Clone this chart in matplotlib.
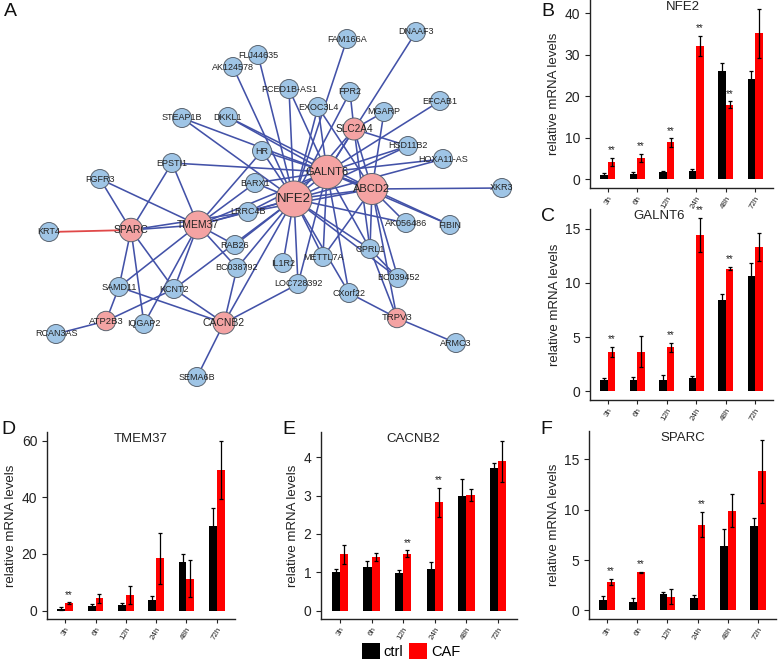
import matplotlib
matplotlib.use('Agg')
import matplotlib.pyplot as plt
import numpy as np
from matplotlib.patches import Circle, Patch
from matplotlib.transforms import offset_copy

plt.rcParams['font.family'] = ['Liberation Sans', 'DejaVu Sans']

W, H = 778, 659

# ---- bar chart data (mean, error) ----
timepoints = ['3h', '6h', '12h', '24h', '48h', '72h']

nfe2_ctrl = [1.0, 1.2, 1.7, 2.1, 26.0, 24.2]
nfe2_ctrl_err = [0.5, 0.5, 0.3, 0.3, 2.0, 1.8]
nfe2_caf = [4.2, 5.2, 8.9, 32.1, 18.0, 35.2]
nfe2_caf_err = [1.0, 1.0, 1.0, 2.4, 0.8, 5.9]
nfe2_sig = ['3h', '6h', '12h', '24h', '48h']

galnt6_ctrl = [1.0, 1.0, 1.0, 1.2, 8.4, 10.65]
galnt6_ctrl_err = [0.2, 0.3, 0.5, 0.2, 0.55, 1.15]
galnt6_caf = [3.6, 3.65, 4.05, 14.4, 11.3, 13.3]
galnt6_caf_err = [0.45, 1.45, 0.4, 1.6, 0.15, 1.3]
galnt6_sig = ['3h', '12h', '24h', '48h']

tmem37_ctrl = [0.7, 1.6, 2.0, 3.7, 17.1, 30.0]
tmem37_ctrl_err = [0.4, 0.8, 0.8, 1.6, 2.9, 6.4]
tmem37_caf = [2.6, 4.3, 5.5, 18.4, 11.3, 49.8]
tmem37_caf_err = [0.3, 1.7, 3.1, 9.0, 6.6, 10.3]
tmem37_sig = ['3h']

cacnb2_ctrl = [1.0, 1.14, 0.98, 1.09, 3.0, 3.71]
cacnb2_ctrl_err = [0.08, 0.15, 0.08, 0.17, 0.44, 0.14]
cacnb2_caf = [1.47, 1.39, 1.48, 2.83, 3.02, 3.9]
cacnb2_caf_err = [0.25, 0.1, 0.09, 0.38, 0.16, 0.54]
cacnb2_sig = ['12h', '24h']

sparc_ctrl = [1.0, 0.85, 1.6, 1.28, 6.4, 8.35]
sparc_ctrl_err = [0.4, 0.35, 0.2, 0.3, 1.65, 0.8]
sparc_caf = [2.8, 3.8, 1.38, 8.5, 9.9, 13.8]
sparc_caf_err = [0.3, 0.05, 0.75, 1.25, 1.65, 3.15]
sparc_sig = ['3h', '6h', '24h']

# ---- network data ----
hub_genes = ['NFE2', 'GALNT6', 'ABCD2', 'SLC2A4', 'TMEM37', 'SPARC', 'CACNB2', 'ATP2B3', 'TRPV3']
hub_sizes = [18, 16.7, 15.5, 11, 14, 11.7, 11, 9.7, 9.7]
hub_font = [9.5, 8, 8, 7.3, 7.5, 7.5, 7.5, 6.8, 6.8]

other_genes = ['FLJ44635', 'AK124578', 'STEAP1B', 'DKKL1', 'HR', 'EPSTI1', 'FGFR3', 'BARX1',
               'FAM166A', 'DNAAF3', 'PCED1B-AS1', 'FPR2', 'EXOC3L4', 'EFCAB1', 'MGARP',
               'HSD11B2', 'HOXA11-AS', 'XKR3', 'KRT4', 'LRRC4B', 'RAB26', 'BC038792',
               'SAMD11', 'KCNT2', 'IQGAP2', 'RCAN3AS', 'SEMA6B', 'IL1R2', 'AK056486',
               'FIBIN', 'OPRL1', 'METTL7A', 'BC039452', 'LOC728392', 'CXorf22', 'ARMC3']

# layout of the network (pixel positions of the original drawing)
layout = {
    'NFE2': (294, 199), 'GALNT6': (327, 172), 'ABCD2': (372, 189), 'SLC2A4': (354, 129),
    'TMEM37': (198, 225), 'SPARC': (131, 230), 'CACNB2': (224, 323), 'ATP2B3': (106, 321),
    'TRPV3': (397, 318),
    'FLJ44635': (258, 55), 'AK124578': (233, 67), 'STEAP1B': (182, 118), 'DKKL1': (228, 117),
    'HR': (262, 151), 'EPSTI1': (172, 163), 'FGFR3': (100, 179), 'BARX1': (255, 183),
    'FAM166A': (347, 39), 'DNAAF3': (416, 32), 'PCED1B-AS1': (289, 89), 'FPR2': (350, 92),
    'EXOC3L4': (318, 107), 'EFCAB1': (440, 101), 'MGARP': (384, 112), 'HSD11B2': (408, 146),
    'HOXA11-AS': (443, 159), 'XKR3': (502, 188), 'KRT4': (49, 232), 'LRRC4B': (248, 212),
    'RAB26': (235, 245), 'BC038792': (237, 268), 'SAMD11': (119, 287), 'KCNT2': (174, 289),
    'IQGAP2': (144, 324), 'RCAN3AS': (56, 334), 'SEMA6B': (197, 377), 'IL1R2': (283, 263),
    'AK056486': (406, 223), 'FIBIN': (450, 225), 'OPRL1': (370, 249), 'METTL7A': (323, 257),
    'BC039452': (398, 278), 'LOC728392': (298, 284), 'CXorf22': (349, 293), 'ARMC3': (456, 343),
}

edges = [
    ('FGFR3', 'SPARC'), ('FGFR3', 'TMEM37'), ('EPSTI1', 'SPARC'), ('EPSTI1', 'TMEM37'),
    ('EPSTI1', 'GALNT6'), ('SPARC', 'TMEM37'), ('SPARC', 'LRRC4B'), ('SPARC', 'SAMD11'),
    ('SPARC', 'IQGAP2'), ('SPARC', 'KCNT2'), ('SAMD11', 'TMEM37'), ('SAMD11', 'ATP2B3'),
    ('SAMD11', 'CACNB2'), ('ATP2B3', 'RCAN3AS'), ('ATP2B3', 'KCNT2'), ('IQGAP2', 'TMEM37'),
    ('KCNT2', 'TMEM37'), ('KCNT2', 'CACNB2'), ('KCNT2', 'NFE2'), ('TMEM37', 'RAB26'),
    ('TMEM37', 'BC038792'), ('TMEM37', 'BARX1'), ('TMEM37', 'LRRC4B'), ('TMEM37', 'NFE2'),
    ('TMEM37', 'GALNT6'), ('TMEM37', 'HR'), ('CACNB2', 'BC038792'), ('CACNB2', 'SEMA6B'),
    ('CACNB2', 'NFE2'), ('CACNB2', 'LOC728392'), ('STEAP1B', 'ABCD2'), ('DKKL1', 'GALNT6'),
    ('AK124578', 'NFE2'), ('FLJ44635', 'NFE2'), ('PCED1B-AS1', 'NFE2'), ('PCED1B-AS1', 'GALNT6'),
    ('EXOC3L4', 'NFE2'), ('EXOC3L4', 'GALNT6'), ('EXOC3L4', 'ABCD2'), ('FPR2', 'SLC2A4'),
    ('FPR2', 'NFE2'), ('FAM166A', 'NFE2'), ('DNAAF3', 'GALNT6'), ('EFCAB1', 'GALNT6'),
    ('MGARP', 'SLC2A4'), ('MGARP', 'ABCD2'), ('SLC2A4', 'GALNT6'), ('SLC2A4', 'NFE2'),
    ('SLC2A4', 'ABCD2'), ('SLC2A4', 'HSD11B2'), ('SLC2A4', 'OPRL1'), ('HSD11B2', 'GALNT6'),
    ('HSD11B2', 'NFE2'), ('HOXA11-AS', 'GALNT6'), ('HOXA11-AS', 'NFE2'), ('XKR3', 'ABCD2'),
    ('HR', 'NFE2'), ('HR', 'GALNT6'), ('BARX1', 'NFE2'), ('BARX1', 'GALNT6'),
    ('LRRC4B', 'NFE2'), ('LRRC4B', 'GALNT6'), ('LRRC4B', 'ABCD2'), ('RAB26', 'NFE2'),
    ('BC038792', 'NFE2'), ('IL1R2', 'NFE2'), ('LOC728392', 'NFE2'), ('LOC728392', 'GALNT6'),
    ('METTL7A', 'NFE2'), ('METTL7A', 'GALNT6'), ('METTL7A', 'ABCD2'), ('CXorf22', 'NFE2'),
    ('CXorf22', 'GALNT6'), ('CXorf22', 'TRPV3'), ('OPRL1', 'NFE2'), ('OPRL1', 'GALNT6'),
    ('OPRL1', 'ABCD2'), ('OPRL1', 'TRPV3'), ('OPRL1', 'BC039452'), ('BC039452', 'NFE2'),
    ('BC039452', 'ABCD2'), ('AK056486', 'NFE2'), ('AK056486', 'ABCD2'), ('FIBIN', 'ABCD2'),
    ('FIBIN', 'GALNT6'), ('TRPV3', 'ARMC3'), ('TRPV3', 'ABCD2'), ('NFE2', 'GALNT6'),
    ('NFE2', 'ABCD2'), ('GALNT6', 'ABCD2'), ('STEAP1B', 'NFE2'), ('DKKL1', 'ABCD2'),
]
red_edges = [('KRT4', 'SPARC')]


def box(l, t, r, b):
    return [l / W, 1 - b / H, (r - l) / W, (b - t) / H]


fig = plt.figure(figsize=(W / 100, H / 100), dpi=100)

# ---- panel A: network ----
axn = fig.add_axes(box(0, 0, 540, 400))
axn.set_xlim(0, 540)
axn.set_ylim(400, 0)
axn.axis('off')

edge_col = '#4352a8'
for a, b in edges:
    (x1, y1), (x2, y2) = layout[a], layout[b]
    axn.plot([x1, x2], [y1, y2], color=edge_col, lw=1.15, zorder=1)
for a, b in red_edges:
    (x1, y1), (x2, y2) = layout[a], layout[b]
    axn.plot([x1, x2], [y1, y2], color='#e04848', lw=1.3, zorder=1)

for g in other_genes:
    x, y = layout[g]
    axn.add_patch(Circle((x, y), 9.5, facecolor='#9fc5e6', edgecolor='#5a6470', lw=0.7, zorder=2))
    axn.text(x, y, g, ha='center', va='center', fontsize=6.5, color='#222222', zorder=3)
for g, r, fs in zip(hub_genes, hub_sizes, hub_font):
    x, y = layout[g]
    axn.add_patch(Circle((x, y), r, facecolor='#f4a3a3', edgecolor='#5a6470', lw=0.7, zorder=2))
    axn.text(x, y, g, ha='center', va='center', fontsize=fs, color='#222222', zorder=3)


# ---- bar panels ----
def bar_panel(rect, gene, ctrl, ctrl_err, caf, caf_err, sig, yticks, title_x=0.5):
    ax = fig.add_axes(box(*rect))
    x = np.arange(1, len(timepoints) + 1)
    w = 0.26
    ekw = dict(ecolor='black', elinewidth=0.9, capsize=1.4, capthick=0.9)
    ax.bar(x - w / 2, ctrl, w, color='black', yerr=ctrl_err, error_kw=ekw, zorder=2)
    ax.bar(x + w / 2, caf, w, color='#ff0000', yerr=caf_err, error_kw=ekw, zorder=2)
    top = max(max(np.add(ctrl, ctrl_err)), max(np.add(caf, caf_err)))
    for t in sig:
        i = timepoints.index(t)
        ax.text(x[i] + w / 2, caf[i] + caf_err[i] + 0.045 * top, '**', ha='center',
                va='center', fontsize=7, color='#222222')
    ax.set_xlim(0.4, 6.6)
    ax.set_ylim(-0.05 * top, 1.05 * top)
    ax.set_xticks(x)
    ax.set_xticklabels(timepoints, rotation=60, ha='right', va='top',
                       rotation_mode='anchor', fontsize=5.8, color='#333333')
    ax.set_yticks(yticks)
    ax.tick_params(axis='y', labelsize=10, colors='#222222', length=3.5, width=0.8)
    ax.tick_params(axis='x', length=3, width=0.8, colors='#222222', pad=2)
    for s in ['top', 'right']:
        ax.spines[s].set_visible(False)
    for s in ['left', 'bottom']:
        ax.spines[s].set_linewidth(1.0)
        ax.spines[s].set_color('#222222')
    ax.set_ylabel('relative mRNA levels', fontsize=9.5, color='#222222', labelpad=3)
    tr = offset_copy(ax.transAxes, fig=fig, x=0, y=-7, units='dots')
    ax.text(title_x, 1.0, gene, transform=tr, ha='center', va='center', fontsize=9.5,
            color='#222222')
    return ax


bar_panel((590, 0, 773, 188), 'NFE2', nfe2_ctrl, nfe2_ctrl_err, nfe2_caf, nfe2_caf_err,
          nfe2_sig, [0, 10, 20, 30, 40], title_x=0.51)
bar_panel((590, 209, 773, 400), 'GALNT6', galnt6_ctrl, galnt6_ctrl_err, galnt6_caf,
          galnt6_caf_err, galnt6_sig, [0, 5, 10, 15], title_x=0.38)
bar_panel((47, 432, 235, 619), 'TMEM37', tmem37_ctrl, tmem37_ctrl_err, tmem37_caf,
          tmem37_caf_err, tmem37_sig, [0, 20, 40, 60])
bar_panel((321, 432, 517, 619), 'CACNB2', cacnb2_ctrl, cacnb2_ctrl_err, cacnb2_caf,
          cacnb2_caf_err, cacnb2_sig, [0, 1, 2, 3, 4], title_x=0.47)
bar_panel((589, 431, 776, 619), 'SPARC', sparc_ctrl, sparc_ctrl_err, sparc_caf,
          sparc_caf_err, sparc_sig, [0, 5, 10, 15])

# panel letters
letters = {'A': (4, 12), 'B': (541, 12), 'C': (541, 216), 'D': (1, 430), 'E': (282, 430), 'F': (540, 429)}
for k, (px, py) in letters.items():
    fig.text(px / W, 1 - py / H, k, fontsize=14, ha='left', va='center', color='#111111')

# legend
handles = [Patch(facecolor='black', label='ctrl'), Patch(facecolor='#ff0000', label='CAF')]
fig.legend(handles=handles, loc='center', bbox_to_anchor=(411 / W, 1 - 651 / H), ncol=2,
           frameon=False, fontsize=10.5, handlelength=1.25, handleheight=1.25,
           handletextpad=0.25, columnspacing=0.4, borderpad=0)

fig.savefig('out.png', dpi=100)
